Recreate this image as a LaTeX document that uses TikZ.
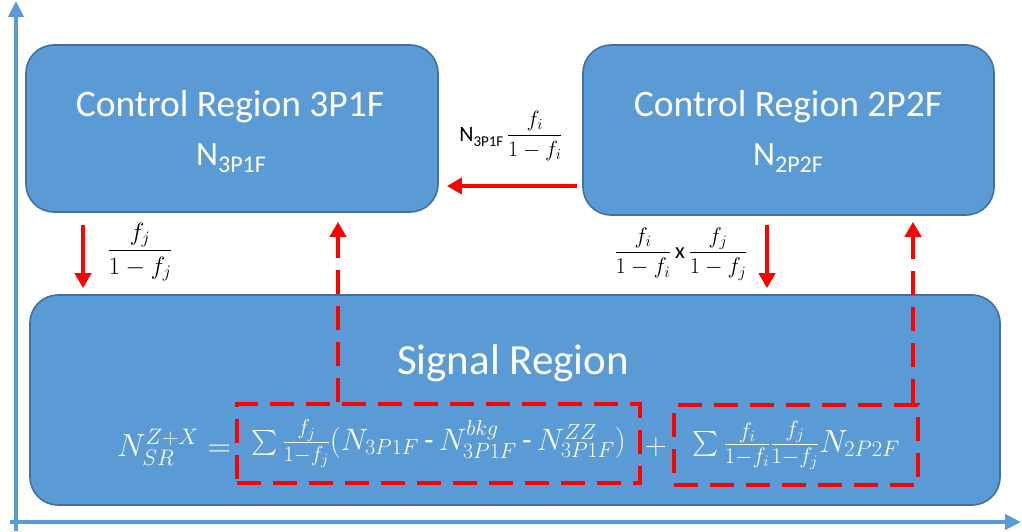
\RequirePackage{fix-cm}
\documentclass[tikz,border=0pt]{standalone}
\usepackage{fontspec}
\setmainfont{Carlito}
\usepackage{amsmath}
\usetikzlibrary{arrows.meta,calc}
\definecolor{boxfill}{HTML}{5B9BD5}
\definecolor{boxline}{HTML}{41719C}
\definecolor{axiscol}{HTML}{5B9BD5}
\definecolor{arrred}{HTML}{FF0000}
\newcommand{\fs}[1]{\fontsize{#1}{#1}\selectfont}
\begin{document}
\begin{tikzpicture}[x=1pt,y=-1pt,
  region/.style={draw=boxline, line width=1.6pt, fill=boxfill, rounded corners=28pt, inner sep=0pt},
  title/.style={text=white, font=\fs{37.5}, inner sep=0pt},
  axisline/.style={draw=axiscol, line width=4pt, -{Triangle[length=16pt,width=15pt]}},
  redarrow/.style={draw=arrred, line width=4.5pt, -{Triangle[length=15pt,width=16pt]}},
  reddash/.style={draw=arrred, line width=4.5pt, dash pattern=on 24pt off 12pt, -{Triangle[length=15pt,width=16pt]}},
  dashbox/.style={draw=arrred, line width=4pt, dash pattern=on 24pt off 12pt, inner sep=0pt, text=white},
  lab/.style={inner sep=0pt, text=black}
]
\useasboundingbox (0,0) rectangle (1022,531);
% axes
\coordinate (ybot) at (16,531);
\coordinate (ytop) at (16,1);
\coordinate (xleft) at (10,522);
\coordinate (xright) at (1021,522);
\draw[axisline] (ybot) -- (ytop);
\draw[axisline] (xleft) -- (xright);
% regions
\node[region, minimum width=412pt, minimum height=167pt] (b1) at (232,128.5) {};
\node[region, minimum width=411pt, minimum height=170pt] (b2) at (788.5,130) {};
\node[region, minimum width=970pt, minimum height=210pt] (b3) at (515,400) {};
% titles
\node[title] (t1) at (230,107) {Control Region 3P1F};
\node[title, font=\fs{34}] (n1) at (231,158) {N\raisebox{-7pt}{\fs{24}3P1F}};
\node[title] (t2) at (788,107) {Control Region 2P2F};
\node[title, font=\fs{34}] (n2) at (788,158) {N\raisebox{-7pt}{\fs{24}2P2F}};
\node[title, font=\fs{43}] (t3) at (513,363) {Signal Region};
% equation
\node[inner sep=0pt, text=white, font=\fs{32}, anchor=east] (lhs) at (231,447) {$N_{SR}^{Z+X} =$};
\node[dashbox, minimum width=403pt, minimum height=79pt, font=\fs{31}] (d1) at (438.5,443.5)
  {$\sum \frac{f_j}{1-f_j}(N_{3P1F}\,\text{-}\,N^{bkg}_{3P1F}\,\text{-}\,N^{ZZ}_{3P1F})$};
\node[inner sep=0pt, text=white, font=\fs{30}] (plus) at (656,447) {$+$};
\node[dashbox, minimum width=244pt, minimum height=80pt, font=\fs{32}] (d2) at (796,445)
  {$\sum \frac{f_i}{1-f_i}\frac{f_j}{1-f_j} N_{2P2F}$};
% arrows
\draw[redarrow] ($(b2.west|-0,186)+(-5,0)$) -- ($(b1.east|-0,186)+(8,0)$);
\draw[redarrow] ($(83,0|-b1.south)+(0,12)$) -- ($(83,0|-b3.north)+(0,-6)$);
\draw[redarrow] ($(767,0|-b2.south)+(0,9)$) -- ($(767,0|-b3.north)+(0,-6)$);
\draw[reddash] (338,0|-d1.north) -- ($(338,0|-b1.south)+(0,9)$);
\draw[reddash] (913,0|-d2.north) -- ($(913,0|-b2.south)+(0,6)$);
% labels
\node[lab, font=\fs{22}] (l1) at (511,136) {N\raisebox{-5pt}{\fs{15}3P1F}\,$\displaystyle\frac{f_i}{1-f_i}$};
\node[lab, font=\fs{25}] (l2) at (140,252) {$\displaystyle\frac{f_j}{1-f_j}$};
\node[lab, font=\fs{22.5}] (l3) at (681,254) {$\displaystyle\frac{f_i}{1-f_i}$\,x\,$\displaystyle\frac{f_j}{1-f_j}$};
\end{tikzpicture}
\end{document}
